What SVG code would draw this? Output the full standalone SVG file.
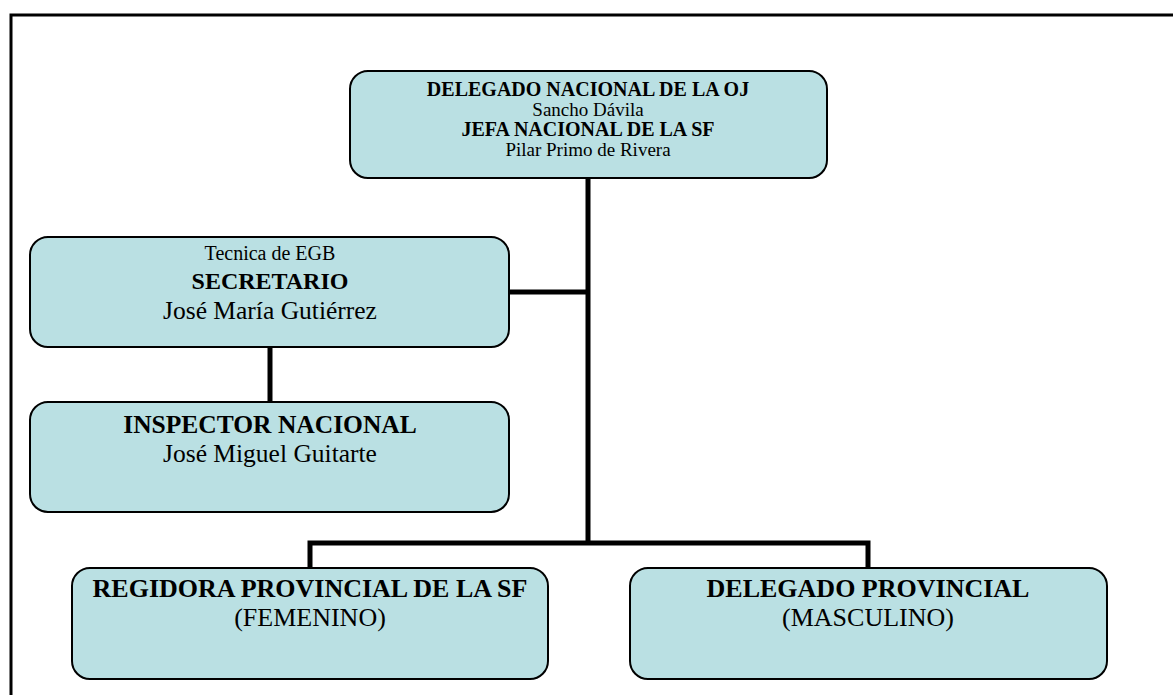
<svg xmlns="http://www.w3.org/2000/svg" width="1173" height="695" viewBox="0 0 1173 695">
<style>
.box{fill:#bae0e3;stroke:#000;stroke-width:2}
.conn{fill:none;stroke:#000;stroke-width:5}
text{font-family:"Liberation Serif","Times New Roman",serif;fill:#000;text-anchor:middle}
.b{font-weight:bold}
</style>
<rect x="0" y="0" width="1173" height="695" fill="#fff"/>
<path d="M11,695 V15 H1173" fill="none" stroke="#000" stroke-width="3"/>
<g id="connectors">
<path class="conn" d="M588,178 V543"/>
<path class="conn" d="M509,292 H588"/>
<path class="conn" d="M270,347 V402"/>
<path class="conn" d="M310,568 V543 H868 V568"/>
</g>
<g id="top">
<rect class="box" x="350" y="71" width="477" height="107" rx="18"/>
<text x="588" y="96" class="b" font-size="20">DELEGADO NACIONAL DE LA OJ</text>
<text x="588" y="116" font-size="19">Sancho Dávila</text>
<text x="588" y="136" class="b" font-size="20">JEFA NACIONAL DE LA SF</text>
<text x="588" y="156" font-size="19">Pilar Primo de Rivera</text>
</g>
<g id="secretario">
<rect class="box" x="30" y="237" width="479" height="110" rx="18"/>
<text x="270" y="260" font-size="20">Tecnica de EGB</text>
<text x="270" y="289" class="b" font-size="24">SECRETARIO</text>
<text x="270" y="319" font-size="25.5">José María Gutiérrez</text>
</g>
<g id="inspector">
<rect class="box" x="30" y="402" width="479" height="110" rx="18"/>
<text x="270" y="433" class="b" font-size="25.5">INSPECTOR NACIONAL</text>
<text x="270" y="462" font-size="25.5">José Miguel Guitarte</text>
</g>
<g id="regidora">
<rect class="box" x="72" y="568" width="476" height="111" rx="18"/>
<text x="310" y="597" class="b" font-size="26">REGIDORA PROVINCIAL DE LA SF</text>
<text x="310" y="626" font-size="26">(FEMENINO)</text>
</g>
<g id="delegado-provincial">
<rect class="box" x="630" y="568" width="477" height="111" rx="18"/>
<text x="868" y="597" class="b" font-size="26">DELEGADO PROVINCIAL</text>
<text x="868" y="626" font-size="26">(MASCULINO)</text>
</g>
</svg>
